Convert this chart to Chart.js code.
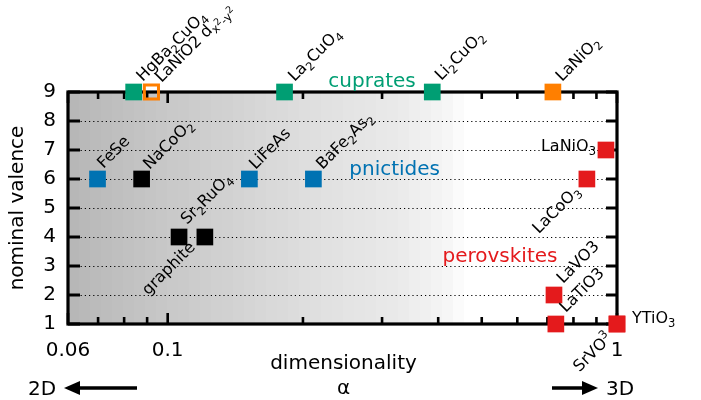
<!DOCTYPE html>
<html><head><meta charset="utf-8">
<script src="https://cdn.jsdelivr.net/npm/chart.js@4"></script>
<style>html,body{margin:0;padding:0;background:#fff}#wrap{width:701px;height:400px}</style>
</head><body><div id="wrap"><canvas id="c" width="701" height="400"></canvas></div>
<script>
// ---------- data ----------
const cuprateNames = ['HgBa_2CuO_4', 'La_2CuO_4', 'Li_2CuO_2'];
const cuprateX = [0.084, 0.182, 0.388];
const cuprateY = [9, 9, 9];

const nickelateOpenNames = ['LaNiO2 d_{x^2-y^2}'];
const nickelateOpenX = [0.092];
const nickelateOpenY = [9];

const nickelateNames = ['LaNiO_2'];
const nickelateX = [0.72];
const nickelateY = [9];

const pnictideNames = ['FeSe', 'LiFeAs', 'BaFe_2As_2'];
const pnictideX = [0.0698, 0.152, 0.211];
const pnictideY = [6, 6, 6];

const otherNames = ['NaCoO_2', 'Sr_2RuO_4', 'graphite'];
const otherX = [0.0875, 0.106, 0.121];
const otherY = [6, 4, 4];

const perovskiteNames = ['LaNiO_3', 'LaCoO_3', 'LaVO3', 'LaTiO3', 'YTiO_3', 'SrVO^3'];
const perovskiteX = [0.945, 0.857, 0.724, 0.731, 1.0, 1.0];
const perovskiteY = [7, 6, 2, 1, 1, 1];

const xTickValues = [0.06, 0.1, 1];
const xTickLabels = ['0.06', '0.1', '1'];
const xMinorTicks = [0.07, 0.08, 0.09, 0.2, 0.3, 0.4, 0.5, 0.6, 0.7, 0.8, 0.9];
const yTickValues = [1, 2, 3, 4, 5, 6, 7, 8, 9];

const groupNames = ['cuprates', 'pnictides', 'perovskites'];
const groupX = [0.285, 0.32, 0.549];
const groupY = [9.35, 6.33, 3.33];

// ---------- styles ----------
const GREEN = '#009e73', BLUE = '#0072b2', RED = '#e41a1c', ORANGE = '#ff7f00', BLACK = '#000000';
const FONT = '"DejaVu Sans", Verdana, sans-serif';
const groupColors = [GREEN, BLUE, RED];
// label placement: [dx, dy, angle(deg), align]
const labelStyle = {
  'HgBa_2CuO_4': [9, -10, -45, 'left'],
  'La_2CuO_4': [10, -10, -45, 'left'],
  'Li_2CuO_2': [9, -11, -45, 'left'],
  'LaNiO2 d_{x^2-y^2}': [10, -9, -45, 'left'],
  'LaNiO_2': [9, -10, -45, 'left'],
  'FeSe': [6, -10, -45, 'left'],
  'LiFeAs': [6, -9, -45, 'left'],
  'BaFe_2As_2': [9, -9, -45, 'left'],
  'NaCoO_2': [8, -9, -45, 'left'],
  'Sr_2RuO_4': [8, -12, -45, 'left'],
  'graphite': [-9, 11, -45, 'right'],
  'LaNiO_3': [-10, 1, 0, 'right'],
  'LaCoO_3': [-6, 13, -45, 'right'],
  'LaVO3': [9, -11, -45, 'left'],
  'LaTiO3': [10, -11, -45, 'left'],
  'YTiO_3': [15, -1, 0, 'left'],
  'SrVO^3': [-4, 15, -45, 'right']
};

function toPts(xs, ys) { return xs.map((v, i) => ({x: v, y: ys[i]})); }

function parseRich(s, shift, scale, out) {
  let i = 0, buf = '';
  const flush = () => { if (buf) { out.push({t: buf, shift, scale}); buf = ''; } };
  while (i < s.length) {
    const c = s[i];
    if (c === '_' || c === '^') {
      flush();
      let grp;
      if (s[i + 1] === '{') {
        let depth = 1, j = i + 2;
        while (j < s.length && depth) { if (s[j] === '{') depth++; else if (s[j] === '}') depth--; j++; }
        grp = s.slice(i + 2, j - 1); i = j;
      } else { grp = s[i + 1]; i += 2; }
      const nshift = shift + (c === '_' ? 0.25 * scale : -0.4 * scale);
      parseRich(grp, nshift, Math.max(scale * 0.72, 0.6), out);
    } else { buf += c; i++; }
  }
  flush();
}

function drawRich(ctx, str, x, y, angleDeg, align, size, color) {
  const segs = [];
  parseRich(str, 0, 1, segs);
  let total = 0;
  for (const s of segs) { ctx.font = (size * s.scale) + 'px ' + FONT; s.w = ctx.measureText(s.t).width; total += s.w; }
  ctx.save();
  ctx.translate(x, y);
  ctx.rotate(angleDeg * Math.PI / 180);
  ctx.textBaseline = 'alphabetic';
  ctx.textAlign = 'left';
  ctx.fillStyle = color;
  let cx = align === 'right' ? -total : 0;
  for (const s of segs) { ctx.font = (size * s.scale) + 'px ' + FONT; ctx.fillText(s.t, cx, s.shift * size); cx += s.w; }
  ctx.restore();
}

const grayStops = [[0, 182], [0.15, 197], [0.31, 211], [0.42, 221], [0.6, 234], [0.68, 244], [0.73, 255], [1, 255]];
function grayAt(f) {
  for (let i = 1; i < grayStops.length; i++) {
    if (f <= grayStops[i][0]) {
      const [f0, g0] = grayStops[i - 1], [f1, g1] = grayStops[i];
      return Math.round(g0 + (g1 - g0) * (f - f0) / (f1 - f0));
    }
  }
  return 255;
}

const framePlugin = {
  id: 'frame',
  beforeDatasetsDraw(chart) {
    const {ctx, chartArea: {left, right, top, bottom}, scales: {x, y}} = chart;
    ctx.save();
    const band = 11;
    for (let px = left; px < right; px += band) {
      const f = (px + band / 2 - left) / (right - left);
      const g = grayAt(f);
      ctx.fillStyle = `rgb(${g},${g},${g})`;
      ctx.fillRect(px, top, Math.min(band + 0.5, right - px), bottom - top);
    }
    ctx.strokeStyle = '#000';
    ctx.lineWidth = 1;
    ctx.setLineDash([1.2, 3]);
    for (const v of yTickValues) {
      if (v === 1 || v === 9) continue;
      const py = Math.round(y.getPixelForValue(v)) + 0.5;
      ctx.beginPath(); ctx.moveTo(left, py); ctx.lineTo(right, py); ctx.stroke();
    }
    ctx.setLineDash([]);
    ctx.lineWidth = 3;
    ctx.lineCap = 'butt';
    for (const v of yTickValues) {
      const py = y.getPixelForValue(v);
      ctx.beginPath(); ctx.moveTo(left, py); ctx.lineTo(left + 12, py); ctx.stroke();
      ctx.beginPath(); ctx.moveTo(right, py); ctx.lineTo(right - 11, py); ctx.stroke();
    }
    const xt = xMinorTicks.map(v => [v, 7]).concat(xTickValues.map(v => [v, 11]));
    ctx.lineWidth = 2.6;
    for (const [v, len] of xt) {
      const px = x.getPixelForValue(v);
      ctx.beginPath(); ctx.moveTo(px, bottom); ctx.lineTo(px, bottom - len); ctx.stroke();
      ctx.beginPath(); ctx.moveTo(px, top); ctx.lineTo(px, top + len); ctx.stroke();
    }
    ctx.lineWidth = 3.2;
    ctx.strokeRect(left, top, right - left, bottom - top);
    ctx.restore();
  },
  afterDraw(chart) {
    const {ctx, scales: {x, y}} = chart;
    ctx.save();
    const groups = [
      [cuprateNames, cuprateX, cuprateY],
      [nickelateOpenNames, nickelateOpenX, nickelateOpenY],
      [nickelateNames, nickelateX, nickelateY],
      [pnictideNames, pnictideX, pnictideY],
      [otherNames, otherX, otherY],
      [perovskiteNames, perovskiteX, perovskiteY]
    ];
    for (const [names, xs, ys] of groups) {
      names.forEach((n, i) => {
        const st = labelStyle[n];
        const px = x.getPixelForValue(xs[i]), py = y.getPixelForValue(ys[i]);
        drawRich(ctx, n, px + st[0], py + st[1], st[2], st[3], 16, '#000');
      });
    }
    ctx.font = '20px ' + FONT;
    ctx.textAlign = 'center';
    ctx.textBaseline = 'middle';
    groupNames.forEach((n, i) => {
      ctx.fillStyle = groupColors[i];
      ctx.fillText(n, x.getPixelForValue(groupX[i]), y.getPixelForValue(groupY[i]));
    });
    const cx = (chart.chartArea.left + chart.chartArea.right) / 2;
    ctx.fillStyle = '#000';
    ctx.textBaseline = 'alphabetic';
    ctx.fillText('dimensionality', cx + 1, 369);
    ctx.fillText('α', cx + 1, 394);
    ctx.textAlign = 'left';
    ctx.fillText('2D', 28, 395);
    ctx.fillText('3D', 606, 395);
    ctx.strokeStyle = '#000';
    ctx.lineWidth = 3.5;
    ctx.beginPath(); ctx.moveTo(137, 388); ctx.lineTo(76, 388); ctx.stroke();
    ctx.beginPath(); ctx.moveTo(64, 388); ctx.lineTo(80, 381); ctx.lineTo(80, 395); ctx.closePath(); ctx.fill();
    ctx.beginPath(); ctx.moveTo(552, 388); ctx.lineTo(586, 388); ctx.stroke();
    ctx.beginPath(); ctx.moveTo(598, 388); ctx.lineTo(582, 381); ctx.lineTo(582, 395); ctx.closePath(); ctx.fill();
    ctx.restore();
  }
};

function ds(xs, ys, color, open) {
  return {
    data: toPts(xs, ys),
    pointStyle: 'rect',
    pointRadius: open ? 10 : 11.8,
    pointHoverRadius: open ? 10 : 11.8,
    backgroundColor: open ? 'rgba(0,0,0,0)' : color,
    borderColor: color,
    borderWidth: open ? 3 : 0,
    clip: false
  };
}

new Chart(document.getElementById('c'), {
  type: 'scatter',
  data: {
    datasets: [
      ds(cuprateX, cuprateY, GREEN, false),
      ds(nickelateOpenX, nickelateOpenY, ORANGE, true),
      ds(nickelateX, nickelateY, ORANGE, false),
      ds(pnictideX, pnictideY, BLUE, false),
      ds(otherX, otherY, BLACK, false),
      ds(perovskiteX, perovskiteY, RED, false)
    ]
  },
  options: {
    responsive: false,
    animation: false,
    events: [],
    layout: {padding: {left: 0, top: 92, right: 84, bottom: 0}},
    plugins: {legend: {display: false}, tooltip: {enabled: false}},
    scales: {
      x: {
        type: 'logarithmic',
        min: 0.06, max: 1,
        grid: {display: false, drawTicks: false},
        border: {display: false},
        afterBuildTicks: s => { s.ticks = xTickValues.map(v => ({value: v})); },
        afterFit: s => { s.height = 76; },
        ticks: {
          autoSkip: false, maxRotation: 0, padding: 15, color: '#000',
          font: {family: FONT, size: 20},
          callback: (v, i) => xTickLabels[i]
        }
      },
      y: {
        type: 'linear',
        min: 1, max: 9,
        grid: {display: false, drawTicks: false},
        border: {display: false},
        afterBuildTicks: s => { s.ticks = yTickValues.map(v => ({value: v})); },
        afterFit: s => { s.width = 68; },
        ticks: {padding: 12, color: '#000', font: {family: FONT, size: 20}},
        title: {display: true, text: 'nominal valence', color: '#000', font: {family: FONT, size: 20}, padding: {top: 6, bottom: 0}}
      }
    }
  },
  plugins: [framePlugin]
});
</script>
</body></html>
